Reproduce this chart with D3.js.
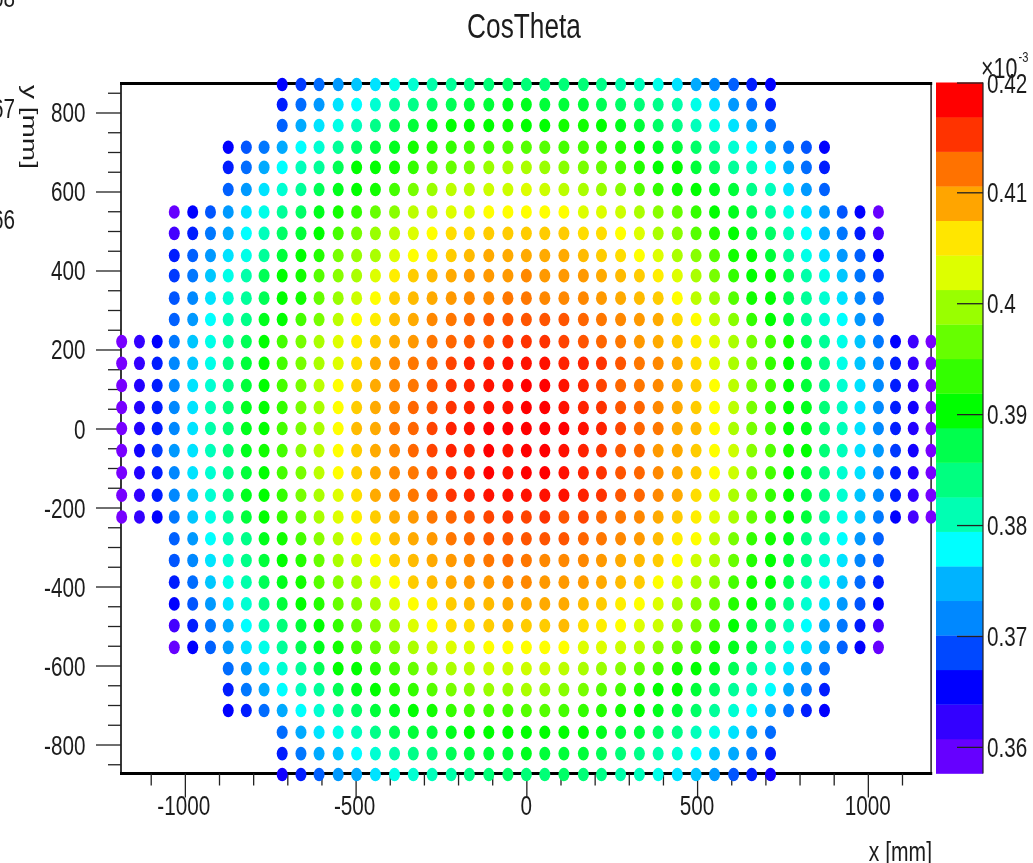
<!DOCTYPE html>
<html><head><meta charset="utf-8">
<script src="https://cdn.jsdelivr.net/npm/d3@7/dist/d3.min.js"></script>
<style>html,body{margin:0;padding:0;background:#fff;overflow:hidden}svg{display:block;filter:blur(0.35px)}text{font-family:"Liberation Sans",Arial,sans-serif;fill:#1c1c1c}</style>
</head><body><svg id="c" width="1033" height="863"></svg>
<script>
// Column centres (mm, magnitude from the centre column) and row centres (mm)
const colOffsets=[0,54,110,167,220,276,331,386,442,497,551,607,660,715,768,820,873,925,977,1031,1081,1133,1185];
const rowYs=[871,820,767,712,661,605,548,494,438,387,330,276,220,165,109,53,0,-56,-112,-169,-224,-279,-334,-389,-444,-499,-554,-608,-661,-714,-769,-823,-876];

// CosTheta values (units of 10^-6), left to right, one list per row, top to bottom
const rowP16=[366,368,371,374,376,377,379,380,382,383,384,385,386,385,385,385,385,384,382,381,379,377,375,373,370,367,366];
const rowP15=[367,371,374,377,378,380,383,384,386,387,388,388,389,389,388,388,388,387,386,385,384,382,379,377,374,371,367];
const rowP14=[370,375,377,379,381,384,387,388,389,390,390,390,391,390,390,391,391,390,389,388,386,384,381,379,377,375,371];
const rowP13=[366,369,372,375,378,380,383,386,388,389,391,392,393,394,394,395,395,395,394,394,393,392,390,389,388,386,383,380,378,375,372,369,366];
const rowP12=[367,371,375,378,381,383,387,390,390,391,393,395,396,397,399,400,400,399,398,397,396,394,392,390,390,388,386,383,381,378,375,371,367];
const rowP11=[370,374,377,380,383,387,389,390,391,394,397,399,401,401,402,402,403,402,401,400,399,398,395,393,391,390,389,388,384,381,377,374,370];
const rowP10=[359,366,369,374,377,379,383,386,389,391,393,396,398,401,402,403,403,404,404,404,404,404,403,403,402,400,398,396,393,390,389,387,383,379,377,374,369,366,359];
const rowP9=[361,367,372,375,378,381,386,388,390,394,397,399,401,403,404,406,406,407,407,407,407,407,406,406,404,403,400,398,395,392,390,388,386,381,378,375,372,367,361];
const rowP8=[367,370,374,377,379,383,388,390,392,397,399,400,403,404,405,407,408,409,409,409,409,409,408,407,406,404,403,400,398,395,391,390,388,383,379,377,374,370,366];
const rowP7=[368,372,376,379,382,387,390,391,395,398,400,403,405,407,408,409,410,410,410,411,410,410,410,409,408,407,405,403,400,397,393,390,390,387,382,379,376,372,368];
const rowP6=[369,373,377,380,383,387,390,391,396,399,402,404,407,408,409,410,411,411,412,412,411,411,411,410,409,408,407,404,401,399,395,391,390,387,383,380,377,373,369];
const rowP5=[370,374,378,381,384,389,390,394,397,401,404,405,408,409,411,412,413,414,414,414,414,414,413,412,411,410,409,406,404,401,398,393,390,388,383,380,378,374,370];
const rowP4=[358,363,366,372,376,379,383,387,390,394,397,400,403,405,407,409,410,412,413,414,414,416,416,416,415,414,413,412,410,409,407,405,403,400,397,394,391,387,383,379,376,372,366,362,358];
const rowP3=[358,363,367,373,376,379,384,388,390,394,397,400,403,406,409,411,412,413,415,417,417,418,418,418,417,417,416,414,412,411,409,406,403,400,397,393,390,388,384,379,376,373,367,363,358];
const rowP2=[358,364,367,373,377,380,384,388,390,394,397,401,404,407,409,411,412,414,416,417,418,418,419,419,418,417,415,413,412,411,409,407,404,401,397,394,390,388,384,380,377,373,367,364,358];
const rowP1=[358,364,367,373,377,381,385,389,390,393,397,400,404,407,409,411,413,414,416,417,418,418,419,419,418,417,416,414,413,411,409,407,404,401,397,393,390,389,385,381,377,373,367,365,358];
const row0=[358,364,367,373,377,382,385,389,390,394,397,400,404,408,409,412,413,415,417,418,419,419,419,419,419,418,417,415,413,412,409,408,404,400,397,394,390,389,385,381,377,373,367,364,358];
const rowM1=[358,365,368,374,377,381,385,389,391,394,398,401,404,407,409,411,413,415,417,417,419,418,419,419,418,417,416,414,413,410,409,407,404,402,398,395,391,390,385,381,377,374,368,365,358];
const rowM2=[358,364,367,373,377,380,384,388,390,394,397,401,404,407,409,411,412,414,416,417,419,418,419,419,418,417,416,414,413,411,409,407,404,402,397,394,390,388,384,380,377,373,367,364,358];
const rowM3=[358,363,367,373,376,380,384,389,390,393,397,400,403,406,409,411,412,414,416,417,418,418,418,418,418,417,416,414,413,411,409,406,403,400,397,393,390,388,384,380,376,373,367,363,358];
const rowM4=[358,363,366,372,376,379,383,388,390,393,396,400,403,405,407,409,410,412,413,414,415,416,415,416,414,415,413,412,411,409,407,405,403,400,396,393,390,388,383,379,376,372,366,361,358];
const rowM5=[370,374,378,381,384,389,391,394,398,401,404,405,408,409,410,412,413,414,414,414,414,414,413,412,411,410,408,405,404,401,397,393,391,389,384,381,378,374,370];
const rowM6=[369,373,377,380,384,388,390,392,396,400,402,404,407,408,409,410,411,412,413,412,411,411,411,410,409,408,407,404,402,400,396,392,390,388,384,380,377,373,369];
const rowM7=[367,371,376,379,382,387,389,391,395,398,400,403,404,407,408,409,410,410,411,411,410,410,410,409,408,407,404,403,400,398,394,391,390,387,382,379,376,371,367];
const rowM8=[366,369,374,377,380,384,388,390,392,396,398,400,403,404,405,407,408,408,409,409,409,409,408,407,405,404,403,400,398,396,392,390,388,384,380,377,374,369,366];
const rowM9=[361,367,372,375,378,381,385,388,390,393,396,398,400,403,404,406,406,407,408,407,407,408,406,405,404,403,402,399,397,394,390,388,386,381,378,375,372,367,361];
const rowM10=[359,366,370,374,377,379,383,387,389,391,394,396,398,400,402,403,403,404,404,404,404,404,403,403,402,401,398,396,394,391,389,388,383,379,377,374,370,366,359];
const rowM11=[371,374,377,380,383,387,390,390,392,394,396,398,400,401,402,402,402,402,401,400,399,398,396,394,391,390,389,387,383,380,377,374,371];
const rowM12=[367,372,375,378,381,383,387,389,390,392,393,395,397,398,399,399,400,399,398,397,395,394,392,390,390,388,386,383,381,378,375,372,367];
const rowM13=[366,367,371,375,378,380,383,386,388,389,390,391,393,394,394,394,395,395,394,393,392,391,390,389,388,386,383,380,378,375,371,367,366];
const rowM14=[371,375,377,379,381,384,387,388,388,389,390,390,390,390,390,390,390,389,388,388,386,384,381,379,377,375,371];
const rowM15=[367,372,375,376,378,380,382,384,385,387,388,388,388,389,388,388,388,387,385,384,382,380,378,376,375,372,367];
const rowM16=[365,367,370,374,375,377,379,380,381,382,384,385,386,385,385,386,385,384,382,381,379,377,376,374,369,367,365];
const rows=[rowP16,rowP15,rowP14,rowP13,rowP12,rowP11,rowP10,rowP9,rowP8,rowP7,rowP6,rowP5,rowP4,rowP3,rowP2,rowP1,row0,rowM1,rowM2,rowM3,rowM4,rowM5,rowM6,rowM7,rowM8,rowM9,rowM10,rowM11,rowM12,rowM13,rowM14,rowM15,rowM16];

// Tick values and labels
const xMajor=[-1000,-500,0,500,1000];
const xMinor=[-1100,-900,-800,-700,-600,-400,-300,-200,-100,100,200,300,400,600,700,800,900,1100];
const yMajor=[-800,-600,-400,-200,0,200,400,600,800];
const yMinor=[-850,-750,-700,-650,-550,-500,-450,-350,-300,-250,-150,-100,-50,50,100,150,250,300,350,450,500,550,650,700,750,850];
const zTicks=[420,410,400,390,380,370,360];
const zLabels=["0.42","0.41","0.4","0.39","0.38","0.37","0.36"];

// Colours
const dotStops=[[358,"#7700ff"],[359,"#6600ff"],[361,"#4400ff"],[363,"#3300ff"],[366,"#0000ff"],[369,"#0055ff"],[372,"#0077ff"],[375,"#00aaff"],[378,"#00ffff"],[381,"#00ffbb"],[384,"#00ff88"],[387,"#00ff55"],[390,"#00ff00"],[393,"#33ff00"],[396,"#66ff00"],[399,"#99ff00"],[401,"#bbff00"],[403,"#ddff00"],[404,"#ffff00"],[405,"#ffee00"],[407,"#ffcc00"],[409,"#ffaa00"],[411,"#ff8800"],[413,"#ff6600"],[415,"#ff4400"],[417,"#ff2200"],[419,"#ff0000"]];
const barColors=["#6600ff","#3300ff","#0000ff","#0048ff","#0088ff","#00b3ff","#00ffff","#00ffb3","#00ff80","#00ff4d","#00ff00","#33ff00","#66ff00","#99ff00","#ddff00","#ffe600","#ffa500","#ff7200","#ff3300","#ff0000"];
const zMin=357.6, zMax=419.9;

const W=1033,H=863;
const plot={l:121,r:931.7,t:83.5,b:773.5};
const bar={l:936,r:983};
const sx=0.74, fs=28;

const x=d3.scaleLinear().domain([-1187,1187]).range([plot.l,plot.r]);
const y=d3.scaleLinear().domain([-873.4,873.4]).range([plot.b,plot.t]);
const z=d3.scaleLinear().domain([zMin,zMax]).range([plot.b,plot.t-1]);
const dotColor=d3.scaleLinear().domain(dotStops.map(d=>d[0])).range(dotStops.map(d=>d[1])).clamp(true);
const bandEdge=d3.scaleLinear().domain([0,barColors.length]).range([zMin,zMax]);

const svg=d3.select("#c");

function label(txt,px,py,anchor,size){
  return svg.append("text").attr("transform",`translate(${px},${py}) scale(${sx},1)`)
    .attr("text-anchor",anchor||"start").attr("font-size",size||fs).text(txt);
}

// Frame
svg.append("line").attr("x1",plot.l).attr("x2",plot.l).attr("y1",plot.t).attr("y2",plot.b).attr("stroke","#222").attr("stroke-width",1.8);
svg.append("line").attr("x1",plot.r-.6).attr("x2",plot.r-.6).attr("y1",plot.t).attr("y2",plot.b).attr("stroke","#222").attr("stroke-width",1.5);
svg.append("line").attr("x1",plot.l-1).attr("x2",plot.r+.5).attr("y1",plot.t).attr("y2",plot.t).attr("stroke","#000").attr("stroke-width",2.8);
svg.append("line").attr("x1",plot.l-1).attr("x2",plot.r+.5).attr("y1",plot.b).attr("y2",plot.b).attr("stroke","#000").attr("stroke-width",2.8);

// Axes
function styleAxis(g){g.select(".domain").remove();g.selectAll("line").attr("stroke","#222").attr("stroke-width",1.3);g.selectAll("text").remove();}
svg.append("g").attr("transform",`translate(0,${plot.b})`).call(d3.axisBottom(x).tickValues(xMinor).tickSize(12)).call(styleAxis);
svg.append("g").attr("transform",`translate(0,${plot.b})`).call(d3.axisBottom(x).tickValues(xMajor).tickSize(24)).call(styleAxis);
svg.append("g").attr("transform",`translate(${plot.l},0)`).call(d3.axisLeft(y).tickValues(yMinor).tickSize(13)).call(styleAxis);
svg.append("g").attr("transform",`translate(${plot.l},0)`).call(d3.axisLeft(y).tickValues(yMajor).tickSize(25)).call(styleAxis);

xMajor.forEach(v=>label(String(v),x(v)-(v<0?1:0),815,"middle"));
yMajor.forEach(v=>label(String(v),85.5,y(v)+10,"end"));

// Dots
rows.forEach((vals,ri)=>{
  const half=(vals.length-1)/2;
  svg.append("g").selectAll("ellipse").data(vals).join("ellipse")
    .attr("cx",(d,i)=>{const k=i-half;return x(k<0?-colOffsets[-k]:colOffsets[k]);})
    .attr("cy",y(rowYs[ri])).attr("rx",5.5).attr("ry",6.8)
    .attr("fill",d=>dotColor(d));
});

// Colour bar
svg.append("g").selectAll("rect").data(barColors).join("rect")
  .attr("x",bar.l).attr("width",bar.r-bar.l)
  .attr("y",(d,i)=>z(bandEdge(i+1))).attr("height",(d,i)=>z(bandEdge(i))-z(bandEdge(i+1))+.3)
  .attr("fill",d=>d);
svg.append("line").attr("x1",bar.r).attr("x2",bar.r).attr("y1",plot.t-1).attr("y2",plot.b).attr("stroke","#222").attr("stroke-width",1.2);
svg.append("g").attr("transform",`translate(${bar.r},0)`).call(d3.axisLeft(z).tickValues(zTicks.filter(v=>v<=zMax).concat([zMax])).tickSize(26)).call(styleAxis);
zTicks.forEach((v,i)=>label(zLabels[i],987,z(Math.min(v,zMax))+10,"start"));

// Exponent
label("\u00d710",981,78,"start",29);
label("-3",1018.5,62,"start",15);

// Titles
label("CosTheta",524,38,"middle",35.5);
label("x [mm]",932,861,"end",28.5);
svg.append("text").attr("transform",`translate(23,85) scale(${sx},1) rotate(90)`).attr("font-size",28).text("y [mm]");

// Clipped neighbouring labels at the left edge
label("68",15,7,"end");
label("67",15,118,"end");
label("66",15,229,"end");
</script></body></html>
